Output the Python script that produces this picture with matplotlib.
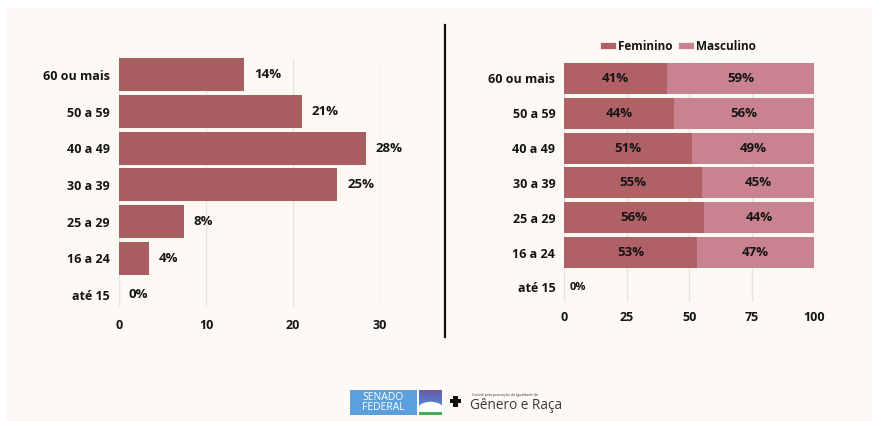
import numpy as np
import matplotlib.pyplot as plt
from matplotlib.lines import Line2D
from matplotlib.patches import Rectangle, Polygon, Ellipse

plt.rcParams['font.family'] = ['Open Sans', 'DejaVu Sans']

# Faixas etárias (de baixo para cima)
faixas = ['até 15', '16 a 24', '25 a 29', '30 a 39', '40 a 49', '50 a 59', '60 ou mais']
total_pct = [0, 3.5, 7.5, 25.1, 28.4, 21.0, 14.4]
fem_pct = [0, 53, 56, 55, 51, 44, 41]
masc_pct = [0, 47, 44, 45, 49, 56, 59]

ticks_total = [0, 10, 20, 30]
ticks_sexo = [0, 25, 50, 75, 100]

W, H = 873, 421
BG = '#fdf9f5'
COR_TOTAL = '#a95e61'
COR_FEM = '#b06166'
COR_MASC = '#c9828f'
COR_TXT = '#141414'
COR_GRID = '#e9e4df'


def fx(px):
    return px / W


def fy(py):
    return 1 - py / H


fig = plt.figure(figsize=(W / 100, H / 100), dpi=100, facecolor='white')
fig.patches.append(Rectangle((fx(6), 0), fx(866), fy(8), transform=fig.transFigure,
                             facecolor=BG, edgecolor='none', zorder=-10))

y = np.arange(len(faixas))


def estilo(ax, ticks, xlim, ylim, xpad):
    ax.set_facecolor('none')
    ax.set_xlim(*xlim)
    ax.set_ylim(*ylim)
    ax.set_xticks(ticks)
    ax.set_yticks(y)
    ax.set_yticklabels(faixas)
    for s in ax.spines.values():
        s.set_visible(False)
    ax.tick_params(length=0, colors=COR_TXT, labelsize=9)
    ax.tick_params(axis='x', pad=xpad)
    ax.tick_params(axis='y', pad=6.5)
    for lab in ax.get_xticklabels() + ax.get_yticklabels():
        lab.set_fontweight('bold')
    ax.grid(axis='x', color=COR_GRID, linewidth=1)
    ax.set_axisbelow(True)


# Distribuição por faixa etária
ax1 = fig.add_axes([fx(119), fy(307), fx(380) - fx(119), (307 - 58) / H])
ax1.barh(y, total_pct, height=0.9, color=COR_TOTAL)
for yi, v in zip(y, total_pct):
    ax1.annotate(f'{v:.0f}%', (v, yi), xytext=(7, 0), textcoords='offset points',
                 va='center', ha='left', fontsize=9.5, fontweight='bold', color=COR_TXT)
estilo(ax1, ticks_total, (0, 30), (-0.33, 6.46), 8.5)

# Distribuição por sexo em cada faixa
ax2 = fig.add_axes([fx(564.3), fy(301.7), fx(814) - fx(564.3), (301.7 - 61.7) / H])
ax2.barh(y, fem_pct, height=0.89, color=COR_FEM, label='Feminino')
ax2.barh(y, masc_pct, left=fem_pct, height=0.89, color=COR_MASC, label='Masculino')
for yi, f, m in zip(y, fem_pct, masc_pct):
    if f + m == 0:
        ax2.annotate('0%', (0, yi), xytext=(4, 0), textcoords='offset points',
                     va='center', ha='left', fontsize=8, fontweight='bold', color=COR_TXT)
        continue
    ax2.text(f / 2, yi, f'{f}%', ha='center', va='center', fontsize=9.5,
             fontweight='bold', color=COR_TXT)
    ax2.text(f + m / 2, yi, f'{m}%', ha='center', va='center', fontsize=9.5,
             fontweight='bold', color=COR_TXT)
estilo(ax2, ticks_sexo, (0, 100), (-0.41, 6.48), 7)

handles = [Line2D([], [], color=COR_FEM, lw=4.5), Line2D([], [], color=COR_MASC, lw=4.5)]
leg = fig.legend(handles, ['Feminino', 'Masculino'], loc='center',
                 bbox_to_anchor=(fx(680), fy(47)), ncol=2, frameon=False,
                 handlelength=0.75, handletextpad=0.45, columnspacing=0.8,
                 prop={'weight': 'bold', 'size': 8.5})
for t in leg.get_texts():
    t.set_color(COR_TXT)

# Divisória
fig.add_artist(Line2D([fx(445), fx(445)], [fy(25), fy(337)], color='#111111', lw=1.6))

# Rodapé: Senado Federal
fig.patches.append(Rectangle((fx(350), fy(415)), fx(417) - fx(350), (415 - 390) / H,
                             transform=fig.transFigure, facecolor='#5b9fdc', edgecolor='none'))
fig.text(fx(362), fy(397.5), 'SENADO', color='white', fontsize=7.5, va='center', ha='left')
fig.text(fx(362), fy(408), 'FEDERAL', color='white', fontsize=7.5, va='center', ha='left')

axl = fig.add_axes([fx(417), fy(415), fx(442) - fx(417), (415 - 390) / H])
grad = np.linspace(0, 1, 50).reshape(-1, 1)
axl.imshow(grad, extent=(0, 1, 0.25, 1), cmap=plt.matplotlib.colors.LinearSegmentedColormap.from_list(
    'ceu', ['#4f8fd8', '#6a5aa8']), origin='lower', aspect='auto')
axl.add_patch(Ellipse((0.55, 0.18), 1.1, 0.7, facecolor='white', edgecolor='none'))
axl.add_patch(Rectangle((0, 0), 1, 0.14, facecolor='#3fae55', edgecolor='none'))
axl.add_patch(Rectangle((0, 0), 0.08, 1, facecolor='white', edgecolor='none'))
axl.set_xlim(0, 1)
axl.set_ylim(0, 1)
axl.axis('off')

# Rodapé: Comitê de Gênero e Raça
cx, cy = 455.5, 401
braco = 2.2
comp = 5.5
cruz = [(-braco, comp), (braco, comp), (braco, braco), (comp, braco), (comp, -braco),
        (braco, -braco), (braco, -comp), (-braco, -comp), (-braco, -braco), (-comp, -braco),
        (-comp, braco), (-braco, braco)]
fig.patches.append(Polygon([(fx(cx + a), fy(cy - b)) for a, b in cruz], closed=True,
                           transform=fig.transFigure, facecolor='#111111', edgecolor='none'))
fig.text(fx(472), fy(395), 'Comitê pela promoção da Igualdade de', fontsize=2.6,
         color='#333333', va='center', ha='left')
fig.text(fx(470), fy(405.5), 'Gênero e Raça', fontsize=9.8, color='#3a3a3a',
         va='center', ha='left')

fig.savefig('out.png', dpi=100, facecolor=fig.get_facecolor())
